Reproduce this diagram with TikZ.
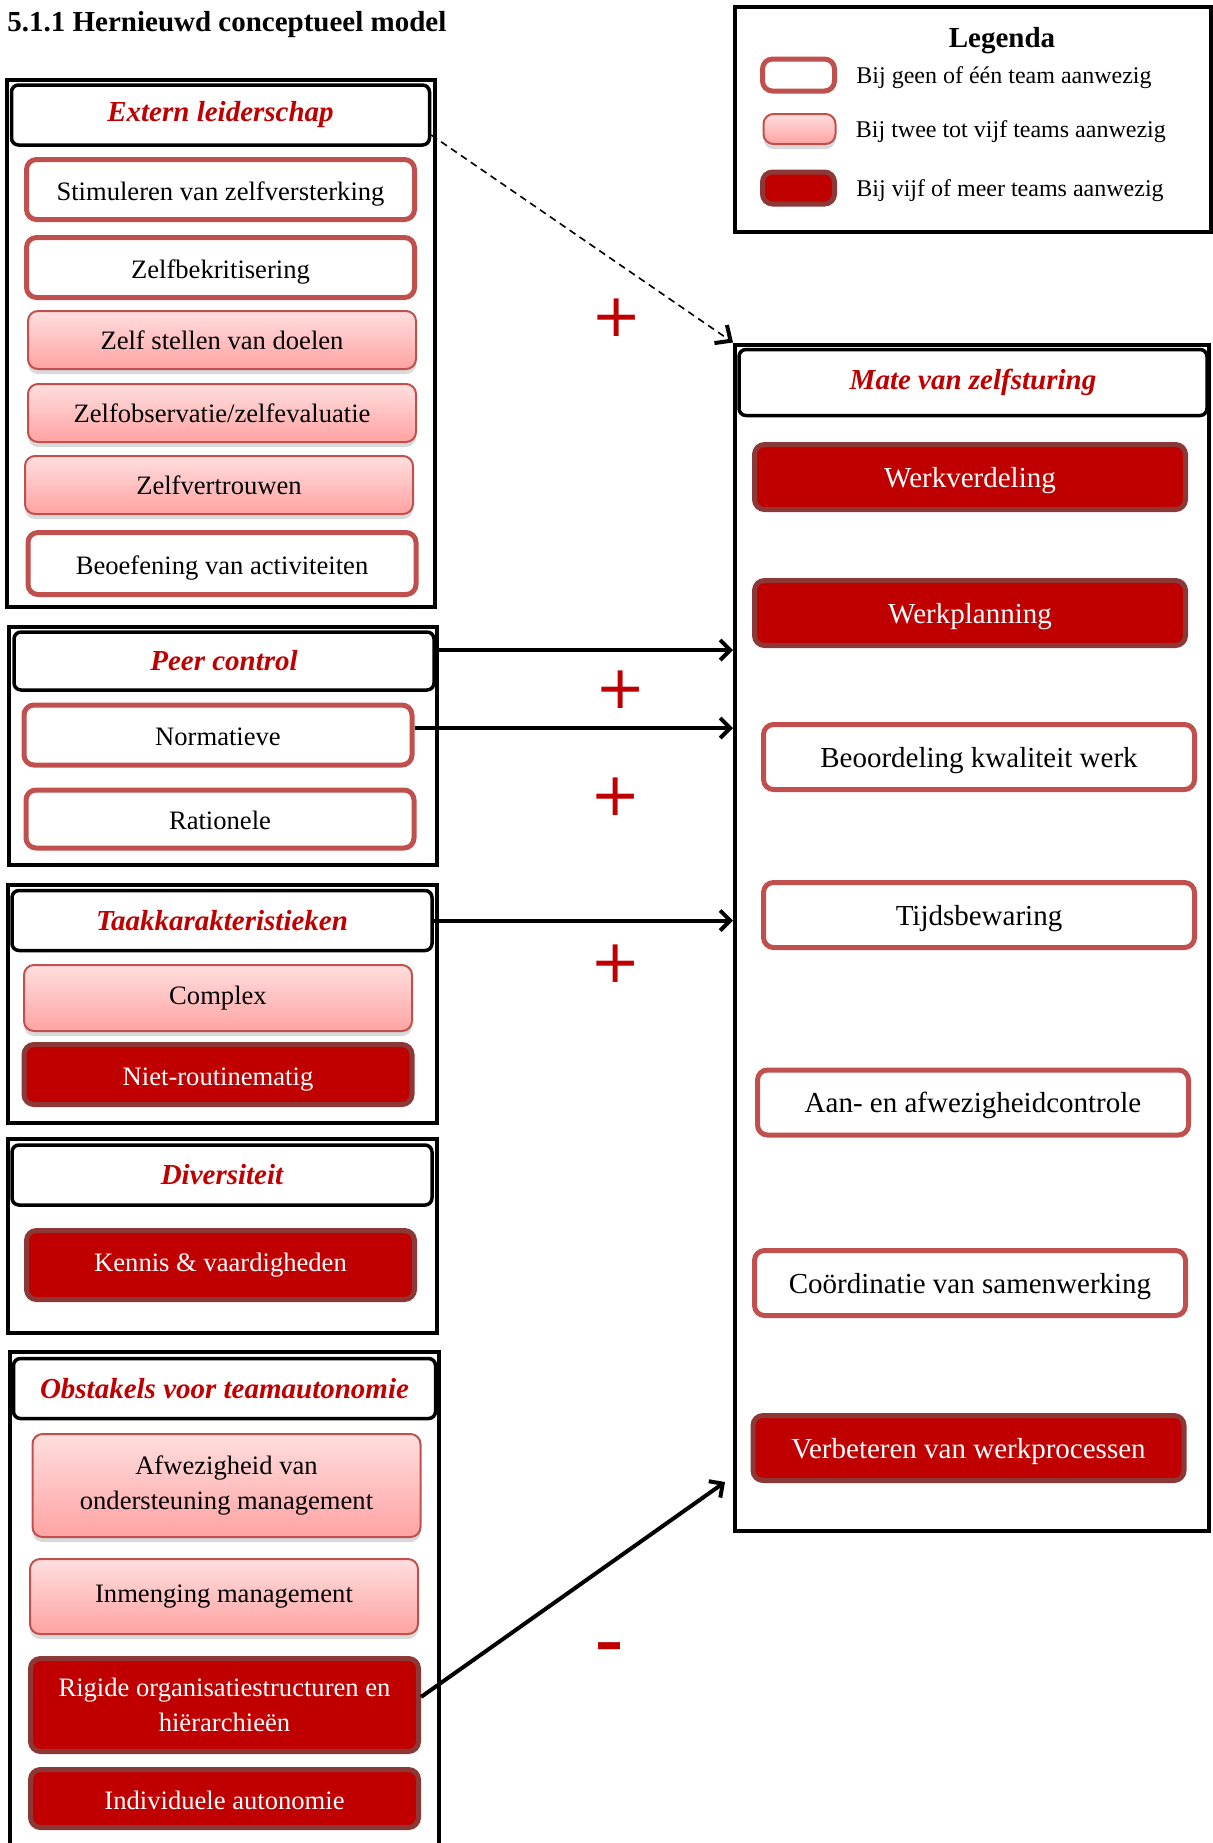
\documentclass[tikz,border=0pt]{standalone}
\usepackage{fontspec}
\setmainfont{Liberation Serif}
\newfontfamily\signfont{DejaVu Sans}
\usepackage{xcolor}
\usepackage{tikz}
\usetikzlibrary{arrows.meta,positioning,shadows}
\tikzset{
  groupframe/.style={rectangle, draw=black, line width=2pt},
  ghead/.style={rectangle, rounded corners=3.5pt, draw=black, line width=1.75pt, fill=white, text=hdred, inner sep=0pt, font=\fontsize{14.5}{17}\selectfont\bfseries\itshape},
  nonebox/.style={rectangle, rounded corners=5pt, draw=lowred, line width=2.5pt, fill=white, inner sep=0pt},
  fewbox/.style={rectangle, rounded corners=5pt, draw=lowred, line width=1pt, top color=pinktop, bottom color=pinkbot, drop shadow={shadow xshift=0pt, shadow yshift=-2.5pt, opacity=.3}, inner sep=0pt},
  manybox/.style={rectangle, rounded corners=5pt, draw=edgered, line width=2.5pt, fill=hdred, text=white, inner sep=0pt},
  lsize/.style={minimum width=194pt, minimum height=30pt, font=\fontsize{13.3}{17.5}\selectfont},
  lshift/.style={text height=12pt, text depth=1.2pt},
  rsize/.style={minimum width=215.5pt, minimum height=32.5pt, text height=12pt, text depth=1.8pt, font=\fontsize{14.5}{17}\selectfont},
  legtext/.style={inner sep=0pt, text height=8.5pt, text depth=0.5pt, font=\fontsize{12}{14}\selectfont},
  garrow/.style={-{Straight Barb[length=5pt,width=10pt]}, line width=2pt},
  relsign/.style={text=hdred, inner sep=0pt, font=\signfont\fontsize{30}{30}\selectfont}
}
\definecolor{hdred}{RGB}{192,0,0}
\definecolor{edgered}{RGB}{140,56,54}
\definecolor{lowred}{RGB}{192,80,77}
\definecolor{pinktop}{RGB}{255,222,222}
\definecolor{pinkbot}{RGB}{255,163,163}

\begin{document}
\begin{tikzpicture}[x=0.5pt, y=-0.5pt]
\useasboundingbox (0,0) rectangle (1213,1843);
\node[anchor=west, inner sep=0pt, font=\fontsize{14.5}{17}\selectfont\bfseries] (title) at (7,25) {5.1.1 Hernieuwd conceptueel model};

\draw[groupframe] (735,7) rectangle (1211,232);
\node[font=\fontsize{14.5}{17}\selectfont\bfseries] (legtitle) at (1002,41) {Legenda};
\node[nonebox, minimum width=36pt, minimum height=16pt] (legnone) at (798.5,75) {};
\node[fewbox, minimum width=36pt, minimum height=15pt] (legfew) at (799.5,129) {};
\node[manybox, minimum width=36pt, minimum height=16pt] (legmany) at (798.5,188) {};
\node[legtext, right=9.5pt of legnone] (lnone) {Bij geen of één team aanwezig};
\node[legtext, right=9.5pt of legfew] (lfew) {Bij twee tot vijf teams aanwezig};
\node[legtext, right=9.5pt of legmany] (lmany) {Bij vijf of meer teams aanwezig};

\draw[groupframe] (7,80) rectangle (435,607);
\node[ghead, minimum width=209pt, minimum height=30pt] (exthd) at (220.5,115) {Extern leiderschap};
\node[nonebox, lsize, lshift] (stim) at (220.5,189.5) {Stimuleren van zelfversterking};
\node[nonebox, lsize, lshift] (zbek) at (220.5,267.5) {Zelfbekritisering};
\node[fewbox, lsize, minimum height=29pt] (doel) at (222,340) {Zelf stellen van doelen};
\node[fewbox, lsize, minimum height=29pt] (zobs) at (222,413) {Zelfobservatie/zelfevaluatie};
\node[fewbox, lsize, minimum height=29pt] (zvert) at (219,485) {Zelfvertrouwen};
\node[nonebox, lsize, lshift, minimum height=31pt] (beoef) at (222,563.5) {Beoefening van activiteiten};

\draw[groupframe] (9,627) rectangle (437,865);
\node[ghead, minimum width=210pt, minimum height=29pt] (peerhd) at (224,661) {Peer control};
\node[nonebox, lsize, lshift] (norm) at (218,735) {Normatieve};
\node[nonebox, lsize, lshift, minimum height=29pt] (ratio) at (220,819) {Rationele};

\draw[groupframe] (8,885) rectangle (437,1123);
\node[ghead, minimum width=210pt, minimum height=30pt] (taakhd) at (222,920.5) {Taakkarakteristieken};
\node[fewbox, lsize, minimum height=33pt] (cplx) at (218,998) {Complex};
\node[manybox, lsize, lshift] (nroute) at (218,1074.5) {Niet-routinematig};

\draw[groupframe] (8,1139) rectangle (437,1333);
\node[ghead, minimum width=210pt, minimum height=30pt] (divhd) at (222,1175) {Diversiteit};
\node[manybox, lsize, minimum height=34.5pt] (kennis) at (220.5,1265) {Kennis \& vaardigheden};

\draw[groupframe] (10,1870) -- (10,1352) -- (439,1352) -- (439,1870);
\node[ghead, minimum width=211pt, minimum height=30pt] (obsthd) at (224.5,1388.5) {Obstakels voor teamautonomie};
\node[fewbox, lsize, align=center, minimum height=51.5pt] (afwez) at (226.5,1485.5) {Afwezigheid van\\ondersteuning management};
\node[fewbox, lsize, minimum height=37.5pt] (inmeng) at (224,1596.5) {Inmenging management};
\node[manybox, lsize, align=center, minimum height=46.5pt] (rigide) at (224.5,1705) {Rigide organisatiestructuren en\\hiërarchieën};
\node[manybox, lsize, lshift, minimum height=29pt] (indiv) at (224.5,1798.5) {Individuele autonomie};

\node[groupframe, minimum width=237pt, minimum height=593pt] (mate) at (972,937.5) {};
\node[ghead, minimum width=234pt, minimum height=33pt] (matehd) at (973,382.5) {Mate van zelfsturing};
\node[manybox, rsize] (wverd) at (970,477) {Werkverdeling};
\node[manybox, rsize] (wplan) at (970,613) {Werkplanning};
\node[nonebox, rsize] (beoord) at (979,757) {Beoordeling kwaliteit werk};
\node[nonebox, rsize] (tijd) at (979,915) {Tijdsbewaring};
\node[nonebox, rsize] (aanaf) at (973,1102.5) {Aan- en afwezigheidcontrole};
\node[nonebox, rsize] (coord) at (970,1283) {Coördinatie van samenwerking};
\node[manybox, rsize] (verbet) at (968.5,1448) {Verbeteren van werkprocessen};

\coordinate (extout) at ([yshift=-10pt]exthd.east);
\coordinate (peerout) at ([yshift=5.5pt]peerhd.east);
\coordinate (normout) at ([yshift=3.5pt]norm.east);
\coordinate (rigout) at ([yshift=4pt]rigide.east);
\coordinate (rigin) at (725,1482);
\draw[-{Straight Barb[length=6pt,width=11pt,line width=2pt]}, line width=0.8pt, dash pattern=on 3.5pt off 2.5pt] (extout) -- (mate.north west);
\draw[garrow] (peerout) -- (peerout -| mate.west);
\draw[garrow] (normout) -- (normout -| mate.west);
\draw[garrow] (taakhd.east) -- (taakhd.east -| mate.west);
\draw[garrow] (rigout) -- (rigin);

\node[relsign] (plusext) at (617,318) {+};
\node[relsign] (pluspeer) at (621,690) {+};
\node[relsign] (plusnorm) at (616,797) {+};
\node[relsign] (plustaak) at (616,964) {+};
\node[relsign, font=\signfont\bfseries\fontsize{28}{28}\selectfont] (minrig) at (609,1652) {–};
\end{tikzpicture}
\end{document}
